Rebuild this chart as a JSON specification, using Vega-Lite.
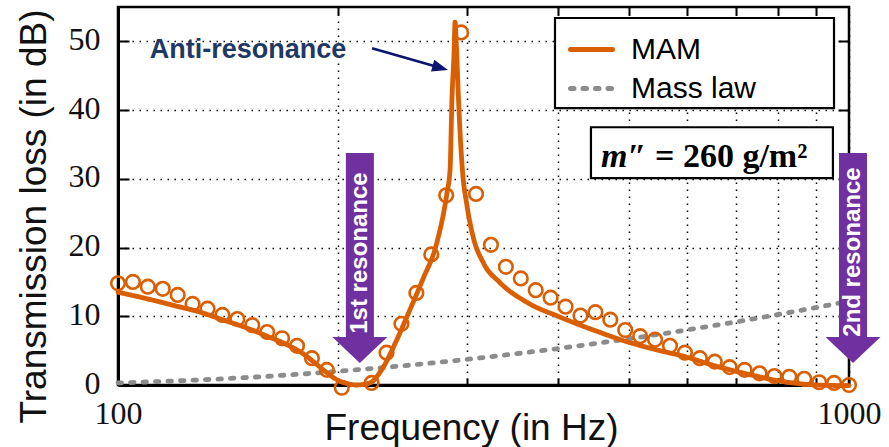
{
  "$schema": "https://vega.github.io/schema/vega-lite/v6.json",
  "width": 731,
  "height": 378,
  "autosize": {"type": "none"},
  "padding": {"left": 118, "top": 7, "right": 40, "bottom": 62},
  "background": "white",
  "config": {
    "view": {"stroke": "black", "strokeWidth": 2.5},
    "axis": {"domainColor": "black", "tickColor": "black", "gridColor": "black", "labelColor": "#111111", "titleColor": "#111111", "gridOpacity": 1}
  },
  "datasets": {
    "lines": [
      {"f": 100, "tl": 0.3, "series": "Mass law"},
      {"f": 125, "tl": 0.67, "series": "Mass law"},
      {"f": 150, "tl": 1.09, "series": "Mass law"},
      {"f": 200, "tl": 1.99, "series": "Mass law"},
      {"f": 250, "tl": 2.88, "series": "Mass law"},
      {"f": 300, "tl": 3.73, "series": "Mass law"},
      {"f": 400, "tl": 5.31, "series": "Mass law"},
      {"f": 500, "tl": 6.73, "series": "Mass law"},
      {"f": 600, "tl": 8.01, "series": "Mass law"},
      {"f": 700, "tl": 9.18, "series": "Mass law"},
      {"f": 800, "tl": 10.26, "series": "Mass law"},
      {"f": 900, "tl": 11.26, "series": "Mass law"},
      {"f": 1000, "tl": 12.2, "series": "Mass law"},
      {"f": 100, "tl": 13.5, "series": "MAM"},
      {"f": 110, "tl": 12.5, "series": "MAM"},
      {"f": 120, "tl": 11.5, "series": "MAM"},
      {"f": 129.5, "tl": 10.6, "series": "MAM"},
      {"f": 139, "tl": 9.5, "series": "MAM"},
      {"f": 150, "tl": 8.3, "series": "MAM"},
      {"f": 160, "tl": 7.1, "series": "MAM"},
      {"f": 170, "tl": 5.9, "series": "MAM"},
      {"f": 180, "tl": 4.4, "series": "MAM"},
      {"f": 185, "tl": 3.4, "series": "MAM"},
      {"f": 192, "tl": 2.0, "series": "MAM"},
      {"f": 199, "tl": 0.8, "series": "MAM"},
      {"f": 206, "tl": 0.2, "series": "MAM"},
      {"f": 212, "tl": 0.0, "series": "MAM"},
      {"f": 221, "tl": 0.3, "series": "MAM"},
      {"f": 230, "tl": 2.4, "series": "MAM"},
      {"f": 240, "tl": 6.3, "series": "MAM"},
      {"f": 250, "tl": 10.6, "series": "MAM"},
      {"f": 261, "tl": 15.3, "series": "MAM"},
      {"f": 273, "tl": 20.7, "series": "MAM"},
      {"f": 281.9, "tl": 28.0, "series": "MAM"},
      {"f": 284.6, "tl": 31.3, "series": "MAM"},
      {"f": 286.3, "tl": 41.5, "series": "MAM"},
      {"f": 288.3, "tl": 48.8, "series": "MAM"},
      {"f": 289.1, "tl": 52.8, "series": "MAM"},
      {"f": 290.5, "tl": 48.8, "series": "MAM"},
      {"f": 292.3, "tl": 41.5, "series": "MAM"},
      {"f": 295.9, "tl": 31.3, "series": "MAM"},
      {"f": 300, "tl": 26.3, "series": "MAM"},
      {"f": 306, "tl": 21.6, "series": "MAM"},
      {"f": 316, "tl": 17.8, "series": "MAM"},
      {"f": 333, "tl": 14.9, "series": "MAM"},
      {"f": 363, "tl": 12.0, "series": "MAM"},
      {"f": 402, "tl": 9.9, "series": "MAM"},
      {"f": 447, "tl": 8.0, "series": "MAM"},
      {"f": 497, "tl": 6.3, "series": "MAM"},
      {"f": 551, "tl": 5.0, "series": "MAM"},
      {"f": 593, "tl": 4.2, "series": "MAM"},
      {"f": 660, "tl": 2.7, "series": "MAM"},
      {"f": 732, "tl": 1.5, "series": "MAM"},
      {"f": 812, "tl": 0.5, "series": "MAM"},
      {"f": 904, "tl": 0.0, "series": "MAM"},
      {"f": 1000, "tl": -0.1, "series": "MAM"}
    ],
    "meas": [
      {"f": 100, "tl": 14.8},
      {"f": 104.81, "tl": 15.0},
      {"f": 109.85, "tl": 14.3},
      {"f": 115.14, "tl": 14.0},
      {"f": 120.68, "tl": 13.1},
      {"f": 126.49, "tl": 11.8},
      {"f": 132.57, "tl": 11.1},
      {"f": 138.95, "tl": 10.2},
      {"f": 145.63, "tl": 9.6},
      {"f": 152.64, "tl": 8.7},
      {"f": 159.98, "tl": 7.7},
      {"f": 167.68, "tl": 6.8},
      {"f": 175.75, "tl": 5.7},
      {"f": 184.2, "tl": 3.9},
      {"f": 193.06, "tl": 2.2},
      {"f": 202.35, "tl": -0.4},
      {"f": 222.29, "tl": 0.3},
      {"f": 232.99, "tl": 4.7},
      {"f": 244.2, "tl": 8.9},
      {"f": 255.95, "tl": 13.4},
      {"f": 268.26, "tl": 19.0},
      {"f": 281.17, "tl": 27.6},
      {"f": 294.7, "tl": 51.3},
      {"f": 308.88, "tl": 27.8},
      {"f": 323.75, "tl": 20.4},
      {"f": 339.32, "tl": 17.2},
      {"f": 355.65, "tl": 15.5},
      {"f": 372.76, "tl": 13.8},
      {"f": 390.7, "tl": 12.7},
      {"f": 409.49, "tl": 11.4},
      {"f": 429.2, "tl": 10.1},
      {"f": 449.85, "tl": 10.6},
      {"f": 471.49, "tl": 9.5},
      {"f": 494.17, "tl": 8.0},
      {"f": 517.95, "tl": 7.1},
      {"f": 542.87, "tl": 6.6},
      {"f": 568.99, "tl": 5.7},
      {"f": 596.36, "tl": 4.7},
      {"f": 625.06, "tl": 3.9},
      {"f": 655.13, "tl": 3.4},
      {"f": 686.65, "tl": 2.6},
      {"f": 719.69, "tl": 2.2},
      {"f": 754.31, "tl": 1.7},
      {"f": 790.6, "tl": 1.3},
      {"f": 828.64, "tl": 1.2},
      {"f": 868.51, "tl": 0.9},
      {"f": 910.3, "tl": 0.4},
      {"f": 954.09, "tl": 0.3},
      {"f": 1000, "tl": 0.0}
    ],
    "boxes": [
      {"f1": 396.1, "f2": 953.9, "t1": 40.3, "t2": 53.4, "w": "legend"},
      {"f1": 443.6, "f2": 950.6, "t1": 30.1, "t2": 37.5, "w": "mass"}
    ],
    "resonances": [
      {"f1": 205.0, "f2": 223.9, "fc": 214.2, "t1": 6.5, "t2": 33.76, "th": 5.09, "tt": 19.2, "label": "1st resonance"},
      {"f1": 969.0, "f2": 1058.3, "fc": 1012.7, "t1": 6.5, "t2": 33.76, "th": 5.09, "tt": 19.35, "label": "2nd resonance"}
    ],
    "anti": [
      {"f": 150.6, "tl": 47.6, "label": "Anti-resonance", "f1": 222.6, "t1": 49.0, "f2": 276.0, "t2": 46.15}
    ],
    "massvar": [
      {"f": 458.0, "tl": 31.7, "label": "m\u2033"}
    ],
    "massval": [
      {"f": 542.8, "tl": 31.7, "label": "= 260 g/m\u00b2"}
    ]
  },
  "resolve": {"axis": {"x": "independent", "y": "independent"}},
  "layer": [
    {
      "data": {"name": "lines"},
      "mark": {"type": "line", "strokeWidth": 4.8, "strokeCap": "round", "interpolate": "monotone", "clip": false},
      "encoding": {
        "x": {
          "field": "f", "type": "quantitative",
          "scale": {"type": "log", "domain": [100, 1000], "nice": false},
          "axis": {
            "orient": "bottom",
            "values": [100, 200, 300, 400, 500, 600, 700, 800, 900, 1000],
            "labelExpr": "datum.value == 100 ? '100' : (datum.value == 1000 ? '1000' : '')",
            "labelFont": "Liberation Serif", "labelFontSize": 32, "labelPadding": 20,
            "labelBaseline": "top", "labelAlign": "center", "labelFlush": false, "labelOverlap": false,
            "tickSize": -7, "tickWidth": 2,
            "domain": true, "domainWidth": 3,
            "grid": true, "gridDash": [1.5, 5.5], "gridWidth": 1.5,
            "title": "Frequency (in Hz)", "titleFont": "Liberation Sans", "titleFontSize": 37, "titleFontWeight": "normal",
            "titleX": 353, "titleY": 54, "titleBaseline": "alphabetic", "titleAlign": "center"
          }
        },
        "y": {
          "field": "tl", "type": "quantitative",
          "scale": {"domain": [0, 55], "nice": false, "zero": false},
          "axis": {
            "orient": "left",
            "values": [0, 10, 20, 30, 40, 50],
            "labelFont": "Liberation Serif", "labelFontSize": 32, "labelPadding": 29, "labelOffset": -2,
            "labelBaseline": "middle", "labelFlush": false, "labelOverlap": false,
            "tickSize": -11, "tickWidth": 2,
            "domain": true, "domainWidth": 3,
            "grid": true, "gridDash": [1.5, 5.5], "gridWidth": 1.5,
            "title": "Transmission loss (in dB)", "titleFont": "Liberation Sans", "titleFontSize": 37, "titleFontWeight": "normal",
            "titleX": -73, "titleY": 209, "titleBaseline": "alphabetic", "titleAlign": "center", "titleAngle": 270
          }
        },
        "color": {
          "field": "series", "type": "nominal",
          "scale": {"domain": ["MAM", "Mass law"], "range": ["#d95f02", "#8c8c8c"]},
          "legend": {"title": null, "orient": "none", "legendX": 450, "legendY": 19, "padding": 0,
            "labelFont": "Liberation Sans", "labelFontSize": 30, "labelColor": "black", "labelOffset": 16,
            "symbolType": "stroke", "symbolSize": 1764, "symbolStrokeWidth": 5, "rowPadding": 0,
            "encode": {"symbols": {"update": {"strokeCap": {"value": "round"}}}}}
        },
        "strokeDash": {
          "field": "series", "type": "nominal",
          "scale": {"domain": ["MAM", "Mass law"], "range": [[1, 0], [3.5, 9]]},
          "legend": {"title": null, "orient": "none", "legendX": 450, "legendY": 19, "padding": 0,
            "labelFont": "Liberation Sans", "labelFontSize": 30, "labelColor": "black", "labelOffset": 16,
            "symbolType": "stroke", "symbolSize": 1764, "symbolStrokeWidth": 5, "rowPadding": 0,
            "encode": {"symbols": {"update": {"strokeCap": {"value": "round"}}}}}
        }
      }
    },
    {
      "data": {"name": "meas"},
      "mark": {"type": "point", "shape": "circle", "filled": false, "stroke": "#d95f02", "strokeWidth": 2.6, "size": 185, "opacity": 1, "clip": false},
      "encoding": {
        "x": {"field": "f", "type": "quantitative",
          "axis": {"orient": "top", "values": [200, 300, 400, 500, 600, 700, 800, 900], "labels": false, "grid": false, "domain": false, "tickSize": -8, "tickWidth": 2, "title": null}},
        "y": {"field": "tl", "type": "quantitative",
          "axis": {"orient": "right", "values": [10, 20, 30, 40, 50], "labels": false, "grid": false, "domain": false, "tickSize": -11, "tickWidth": 2, "title": null}}
      }
    },
    {
      "data": {"name": "boxes"},
      "mark": {"type": "rect", "fill": "white", "stroke": "black", "strokeWidth": 2.2},
      "encoding": {
        "x": {"field": "f1", "type": "quantitative", "axis": null},
        "x2": {"field": "f2"},
        "y": {"field": "t1", "type": "quantitative", "axis": null},
        "y2": {"field": "t2"}
      }
    },
    {
      "data": {"name": "resonances"},
      "mark": {"type": "rect", "fill": "#7030a0", "clip": false},
      "encoding": {
        "x": {"field": "f1", "type": "quantitative", "axis": null},
        "x2": {"field": "f2"},
        "y": {"field": "t1", "type": "quantitative", "axis": null},
        "y2": {"field": "t2"}
      }
    },
    {
      "data": {"name": "resonances"},
      "mark": {"type": "point", "shape": "M-1,-0.47L1,-0.47L0,0.47Z", "filled": true, "fill": "#7030a0", "opacity": 1, "size": 3025, "strokeWidth": 0, "clip": false},
      "encoding": {
        "x": {"field": "fc", "type": "quantitative", "axis": null},
        "y": {"field": "th", "type": "quantitative", "axis": null}
      }
    },
    {
      "data": {"name": "resonances"},
      "mark": {"type": "text", "angle": 270, "align": "center", "baseline": "middle", "font": "Liberation Sans", "fontWeight": "bold", "fontSize": 24, "color": "white", "clip": false},
      "encoding": {
        "x": {"field": "fc", "type": "quantitative", "axis": null},
        "y": {"field": "tt", "type": "quantitative", "axis": null},
        "text": {"field": "label"}
      }
    },
    {
      "data": {"name": "anti"},
      "mark": {"type": "text", "align": "center", "baseline": "alphabetic", "font": "Liberation Sans", "fontWeight": "bold", "fontSize": 27, "color": "#1f3864"},
      "encoding": {
        "x": {"field": "f", "type": "quantitative", "axis": null},
        "y": {"field": "tl", "type": "quantitative", "axis": null},
        "text": {"field": "label"}
      }
    },
    {
      "data": {"name": "anti"},
      "mark": {"type": "rule", "stroke": "#0c1470", "strokeWidth": 2.5},
      "encoding": {
        "x": {"field": "f1", "type": "quantitative", "axis": null},
        "x2": {"field": "f2"},
        "y": {"field": "t1", "type": "quantitative", "axis": null},
        "y2": {"field": "t2"}
      }
    },
    {
      "data": {"name": "anti"},
      "mark": {"type": "point", "shape": "M1,0L-1,-0.75L-1,0.75Z", "angle": 16, "filled": true, "fill": "#0c1470", "opacity": 1, "size": 256, "strokeWidth": 0},
      "encoding": {
        "x": {"field": "f2", "type": "quantitative", "axis": null},
        "y": {"field": "t2", "type": "quantitative", "axis": null}
      }
    },
    {
      "data": {"name": "massvar"},
      "mark": {"type": "text", "align": "left", "baseline": "alphabetic", "font": "Liberation Serif", "fontWeight": "bold", "fontStyle": "italic", "fontSize": 34, "color": "black"},
      "encoding": {
        "x": {"field": "f", "type": "quantitative", "axis": null},
        "y": {"field": "tl", "type": "quantitative", "axis": null},
        "text": {"field": "label"}
      }
    },
    {
      "data": {"name": "massval"},
      "mark": {"type": "text", "align": "left", "baseline": "alphabetic", "font": "Liberation Serif", "fontWeight": "bold", "fontSize": 34, "color": "black"},
      "encoding": {
        "x": {"field": "f", "type": "quantitative", "axis": null},
        "y": {"field": "tl", "type": "quantitative", "axis": null},
        "text": {"field": "label"}
      }
    }
  ]
}
